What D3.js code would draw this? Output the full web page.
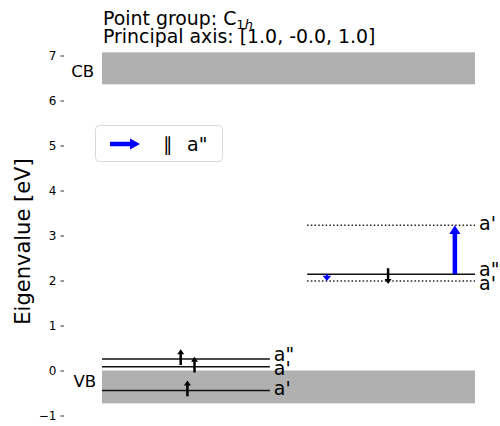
<!DOCTYPE html>
<html>
<head>
<meta charset="utf-8">
<script src="https://cdn.jsdelivr.net/npm/d3@7"></script>
<style>
  body { margin: 0; background: #fff; }
  svg { font-family: "DejaVu Sans", sans-serif; }
</style>
</head>
<body>
<div id="chart"></div>
<script>
// --- data ---
const yTickValues = [-1, 0, 1, 2, 3, 4, 5, 6, 7];

const bandNames = ["CB", "VB"];
const bandLow = [6.36, -0.73];
const bandHigh = [7.07, 0.0];

// spin up channel (left)
const upEnergies = [0.255, 0.084, -0.444];
const upLabels = ['a"', "a'", "a'"];
const upOccupied = [true, true, true];
const upArrowX = [0.211, 0.248, 0.229];

// spin down channel (right)
const downEnergies = [3.23, 2.14, 1.99];
const downLabels = ["a'", 'a"', "a'"];
const downOccupied = [false, true, false];
const downArrowX = [null, 0.767, null];

// transitions (blue arrows)
const transFrom = [2.14, 2.14];
const transTo = [3.23, 1.99];
const transX = [0.946, 0.603];
const transStrength = [1.0, 0.4];

const legendLabel = 'a"';

(function() {
    const width = 500;
    const height = 426;

    const svg = d3.select("#chart")
        .append("svg")
        .attr("width", width)
        .attr("height", height);

    const y = d3.scaleLinear().domain([-1, 7]).range([415.5, 55.5]);
    const x = d3.scaleLinear().domain([0, 1]).range([102, 475]);

    // y axis, no spine
    const yAxis = d3.axisLeft(y)
        .tickValues(yTickValues)
        .tickSize(3.5)
        .tickPadding(4);
    const axisG = svg.append("g")
        .attr("transform", "translate(64,0)")
        .call(yAxis);
    axisG.select(".domain").remove();
    axisG.selectAll("text")
        .attr("font-size", 12)
        .attr("font-family", "DejaVu Sans")
        .attr("fill", "#000");
    axisG.selectAll("line").attr("stroke", "#000").attr("stroke-width", 0.8);

    svg.append("text")
        .attr("transform", "translate(30,241.5) rotate(-90)")
        .attr("text-anchor", "middle")
        .attr("font-size", 21)
        .text("Eigenvalue [eV]");

    // title
    const t1 = svg.append("text")
        .attr("x", 103).attr("y", 25)
        .attr("font-size", 18.9);
    t1.append("tspan").text("Point group: C");
    t1.append("tspan").attr("font-size", 13).attr("dy", 4).text("1");
    t1.append("tspan").attr("font-size", 13).attr("font-style", "italic").text("h");
    svg.append("text")
        .attr("x", 103).attr("y", 43)
        .attr("font-size", 18.9)
        .text("Principal axis: [1.0, -0.0, 1.0]");

    // bands
    bandNames.forEach((name, i) => {
        svg.append("rect")
            .attr("x", x(0))
            .attr("width", x(1) - x(0))
            .attr("y", y(bandHigh[i]))
            .attr("height", y(bandLow[i]) - y(bandHigh[i]))
            .attr("fill", "#b0b0b0");
    });
    svg.append("text")
        .attr("x", 94).attr("y", y(bandLow[0]) - 7)
        .attr("text-anchor", "end")
        .attr("font-size", 16.5)
        .text(bandNames[0]);
    svg.append("text")
        .attr("x", 96).attr("y", y(bandHigh[1]) + 16)
        .attr("text-anchor", "end")
        .attr("font-size", 16.5)
        .text(bandNames[1]);

    // arrow polygon, vertical
    function arrowPts(px, y0, y1, shaftW, headW, headL) {
        const dir = y1 < y0 ? -1 : 1;
        const yh = y1 - dir * headL;
        return [
            [px - shaftW / 2, y0], [px - shaftW / 2, yh], [px - headW / 2, yh],
            [px, y1], [px + headW / 2, yh], [px + shaftW / 2, yh], [px + shaftW / 2, y0]
        ].map(p => p.join(",")).join(" ");
    }

    // spread label positions so they don't overlap
    function spread(ys, minGap) {
        const idx = ys.map((v, i) => i).sort((a, b) => ys[a] - ys[b]);
        const out = ys.slice();
        for (let it = 0; it < 20; it++) {
            for (let k = 1; k < idx.length; k++) {
                const a = idx[k - 1], b = idx[k];
                const gap = out[b] - out[a];
                if (gap < minGap) {
                    const d = (minGap - gap) / 2;
                    out[a] -= d;
                    out[b] += d;
                }
            }
        }
        return out;
    }

    function drawChannel(energies, labels, occupied, arrowX, x0, x1, spinUp) {
        const g = svg.append("g");
        energies.forEach((e, i) => {
            g.append("line")
                .attr("x1", x(x0)).attr("x2", x(x1))
                .attr("y1", y(e)).attr("y2", y(e))
                .attr("stroke", occupied[i] ? "#111" : "#222")
                .attr("stroke-width", 1.5)
                .attr("stroke-dasharray", occupied[i] ? null : "1.5,2.2");
        });
        energies.forEach((e, i) => {
            if (!occupied[i] || arrowX[i] == null) return;
            const tail = spinUp ? e - 0.13 : e + 0.13;
            const tip = spinUp ? e + 0.22 : e - 0.22;
            g.append("polygon")
                .attr("points", arrowPts(x(arrowX[i]), y(tail), y(tip), 2.5, 7, 5))
                .attr("fill", "#000");
        });
        const ly = spread(energies.map(e => y(e)), 14);
        labels.forEach((lab, i) => {
            g.append("text")
                .attr("x", x(x1) + 4)
                .attr("y", ly[i] + 5)
                .attr("font-size", 19)
                .text(lab);
        });
    }

    drawChannel(upEnergies, upLabels, upOccupied, upArrowX, 0, 0.45, true);
    drawChannel(downEnergies, downLabels, downOccupied, downArrowX, 0.55, 1, false);

    // transitions
    const shaftScale = d3.scaleLinear().domain([0, 1]).range([0.5, 4.5]);
    transFrom.forEach((e0, i) => {
        const sw = shaftScale(transStrength[i]);
        svg.append("polygon")
            .attr("points", arrowPts(x(transX[i]), y(e0), y(transTo[i]), sw, sw + 6.5, sw * 1.5 + 2))
            .attr("fill", "#0000ff");
    });

    // legend
    const leg = svg.append("g");
    leg.append("rect")
        .attr("x", 95.5).attr("y", 125.5)
        .attr("width", 127).attr("height", 36)
        .attr("rx", 4)
        .attr("fill", "#fff")
        .attr("stroke", "#d9d9d9")
        .attr("stroke-width", 1);
    leg.append("polygon")
        .attr("points", (() => {
            const yc = 144, xa = 110, xb = 140, sw = 4.5, hw = 11, hl = 10;
            return [[xa, yc - sw / 2], [xb - hl, yc - sw / 2], [xb - hl, yc - hw / 2], [xb, yc],
                    [xb - hl, yc + hw / 2], [xb - hl, yc + sw / 2], [xa, yc + sw / 2]]
                .map(p => p.join(",")).join(" ");
        })())
        .attr("fill", "#0000ff");
    const lt = leg.append("text").attr("y", 151).attr("font-size", 19);
    lt.append("tspan").attr("x", 163).text("\u2225");
    lt.append("tspan").attr("x", 187).text(legendLabel);
})();
</script>
</body>
</html>
